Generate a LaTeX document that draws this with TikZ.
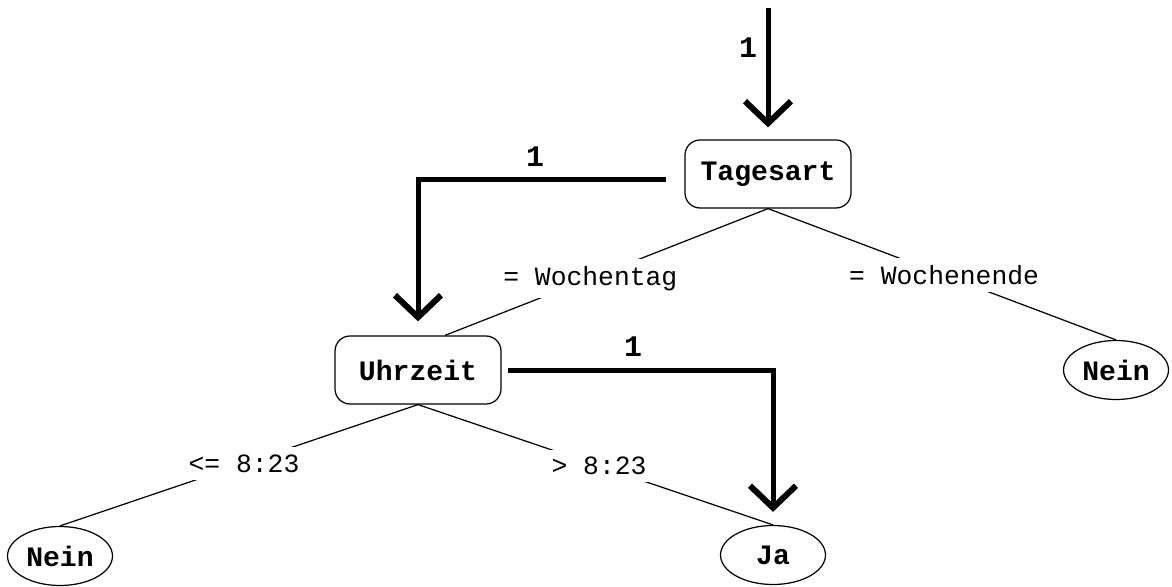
\documentclass[tikz,border=0pt]{standalone}
\usepackage{fontspec}
\setmonofont{Liberation Mono}
\usepackage{tikz}
\usetikzlibrary{arrows.meta,shapes.geometric}

\begin{document}
\begin{tikzpicture}[x=0.02cm,y=-0.02cm,
    box/.style={rectangle,rounded corners=0.3cm,draw=black,line width=0.7pt,
        minimum width=3.32cm,minimum height=1.36cm,
        font=\ttfamily\bfseries\fontsize{16}{18}\selectfont},
    leaf/.style={ellipse,draw=black,line width=0.7pt,inner sep=0pt,
        minimum width=2.1cm,minimum height=1.18cm,
        font=\ttfamily\bfseries\fontsize{16}{18}\selectfont},
    cond/.style={fill=white,inner sep=0.15cm,
        font=\ttfamily\fontsize{15}{17}\selectfont},
    edge/.style={line width=0.7pt},
    flow/.style={line width=0.1cm,
        -{Straight Barb[length=0.44cm,width=0.92cm,line width=0.12cm]}},
    count/.style={font=\ttfamily\bfseries\fontsize{17}{19}\selectfont}]
    \useasboundingbox (0,0) rectangle (1172,587);

    \node[box] (T) at (768,174) {Tagesart};
    \node[box] (U) at (418,370) {Uhrzeit};
    \node[leaf] (N2) at (1116,370) {Nein};
    \node[leaf] (N1) at (60,556) {Nein};
    \node[leaf] (J) at (773,555) {Ja};
    \coordinate (in) at (768,8);

    \draw[edge]
        (T.south) -- node[cond,pos=0.55] (wtag) {= Wochentag} ([xshift=0.54cm]U.north);
    \draw[edge]
        (T.south) -- node[cond,pos=0.506] (wend) {= Wochenende} (N2.north);
    \draw[edge]
        (U.south) -- node[cond,pos=0.486] (early) {<= 8:23} (N1.north);
    \draw[edge]
        (U.south) -- node[cond,pos=0.51] (late) {> 8:23} (J.north);

    \draw[flow,shorten >=0.24cm] (in) -- (T.north);
    \draw[flow,shorten <=0.36cm,shorten >=0.28cm] ([yshift=-0.12cm]T.west) -| (U.north);
    \draw[flow,shorten <=0.12cm,shorten >=0.26cm] (U.east) -| (J.north);

    \node[count] (c0) at (748,48) {1};
    \node[count] (c1) at (535,157) {1};
    \node[count] (c2) at (633,347) {1};
\end{tikzpicture}
\end{document}
